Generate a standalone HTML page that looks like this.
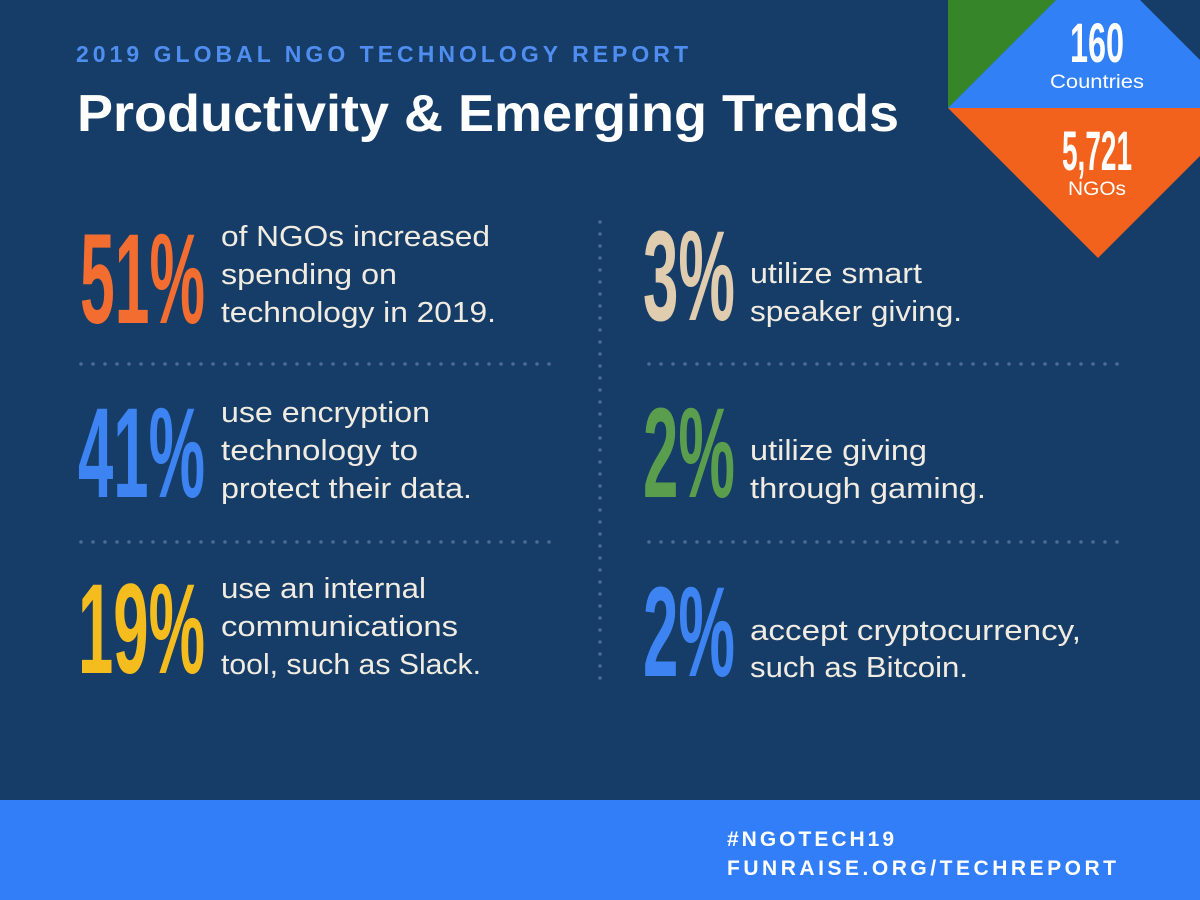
<!DOCTYPE html>
<html><head><meta charset="utf-8"><style>
html,body{margin:0;padding:0;background:#163d66;}
svg{display:block}
</style></head><body>
<svg width="1200" height="900" viewBox="0 0 1200 900" xmlns="http://www.w3.org/2000/svg" font-family="Liberation Sans, sans-serif">
<rect width="1200" height="900" fill="#163d67"/>
<defs>
<pattern id="dh1" x="75" y="358" width="12" height="12" patternUnits="userSpaceOnUse"><circle cx="6" cy="6" r="1.8" fill="#4b6c93"/></pattern>
<pattern id="dh2" x="643" y="358" width="12" height="12" patternUnits="userSpaceOnUse"><circle cx="6" cy="6" r="1.8" fill="#4b6c93"/></pattern>
<pattern id="dh3" x="75" y="536" width="12" height="12" patternUnits="userSpaceOnUse"><circle cx="6" cy="6" r="1.8" fill="#4b6c93"/></pattern>
<pattern id="dh4" x="643" y="536" width="12" height="12" patternUnits="userSpaceOnUse"><circle cx="6" cy="6" r="1.8" fill="#4b6c93"/></pattern>
<pattern id="dv" x="594" y="216" width="12" height="12" patternUnits="userSpaceOnUse"><circle cx="6" cy="6" r="1.8" fill="#4b6c93"/></pattern>
</defs>
<!-- diamond -->
<polygon points="948,0 1056,0 948,108" fill="#368629"/>
<polygon points="948,108 1056,0 1140,0 1248,108" fill="#3280f6"/>
<polygon points="948,108 1248,108 1098,258" fill="#f2621c"/>
<text x="1097" y="62" fill="#fff" font-size="56" font-weight="bold" text-anchor="middle" textLength="54" lengthAdjust="spacingAndGlyphs">160</text>
<text x="1097" y="88" fill="#fff" font-size="19" text-anchor="middle" textLength="94" lengthAdjust="spacingAndGlyphs">Countries</text>
<text x="1097" y="170" fill="#fff" font-size="56" font-weight="bold" text-anchor="middle" textLength="70" lengthAdjust="spacingAndGlyphs">5,721</text>
<text x="1097" y="195" fill="#fff" font-size="19" text-anchor="middle" textLength="58" lengthAdjust="spacingAndGlyphs">NGOs</text>
<!-- header -->
<text x="76" y="62" fill="#4f8ef0" font-size="23" font-weight="bold" textLength="612" lengthAdjust="spacing">2019 GLOBAL NGO TECHNOLOGY REPORT</text>
<text x="77" y="131" fill="#fff" font-size="52" font-weight="bold" textLength="822" lengthAdjust="spacingAndGlyphs">Productivity &amp; Emerging Trends</text>
<!-- dots -->
<rect x="75" y="358" width="482" height="12" fill="url(#dh1)"/>
<rect x="643" y="358" width="482" height="12" fill="url(#dh2)"/>
<rect x="75" y="536" width="482" height="12" fill="url(#dh3)"/>
<rect x="643" y="536" width="482" height="12" fill="url(#dh4)"/>
<rect x="594" y="216" width="12" height="472" fill="url(#dv)"/>
<!-- big numbers -->
<g font-size="128" font-weight="bold">
<text x="80" y="323" fill="#f26d2f" textLength="125" lengthAdjust="spacingAndGlyphs">51%</text>
<text x="78" y="497" fill="#3d84f2" textLength="127" lengthAdjust="spacingAndGlyphs">41%</text>
<text x="78" y="673" fill="#f5bc1e" textLength="127" lengthAdjust="spacingAndGlyphs">19%</text>
<text x="643" y="320" fill="#e0ccae" textLength="92" lengthAdjust="spacingAndGlyphs">3%</text>
<text x="643" y="497" fill="#5a9e4d" textLength="92" lengthAdjust="spacingAndGlyphs">2%</text>
<text x="643" y="676" fill="#3d84f2" textLength="92" lengthAdjust="spacingAndGlyphs">2%</text>
</g>
<!-- body text -->
<g fill="#f1ece2" font-size="29">
<text x="221" y="246" textLength="269" lengthAdjust="spacingAndGlyphs">of NGOs increased</text>
<text x="221" y="284" textLength="176" lengthAdjust="spacingAndGlyphs">spending on</text>
<text x="221" y="322" textLength="275" lengthAdjust="spacingAndGlyphs">technology in 2019.</text>
<text x="750" y="283" textLength="172" lengthAdjust="spacingAndGlyphs">utilize smart</text>
<text x="750" y="321" textLength="212" lengthAdjust="spacingAndGlyphs">speaker giving.</text>
<text x="221" y="422" textLength="209" lengthAdjust="spacingAndGlyphs">use encryption</text>
<text x="221" y="460" textLength="197" lengthAdjust="spacingAndGlyphs">technology to</text>
<text x="221" y="498" textLength="251" lengthAdjust="spacingAndGlyphs">protect their data.</text>
<text x="750" y="460" textLength="177" lengthAdjust="spacingAndGlyphs">utilize giving</text>
<text x="750" y="498" textLength="236" lengthAdjust="spacingAndGlyphs">through gaming.</text>
<text x="221" y="598" textLength="205" lengthAdjust="spacingAndGlyphs">use an internal</text>
<text x="221" y="636" textLength="237" lengthAdjust="spacingAndGlyphs">communications</text>
<text x="221" y="674" textLength="260" lengthAdjust="spacingAndGlyphs">tool, such as Slack.</text>
<text x="750" y="640" textLength="331" lengthAdjust="spacingAndGlyphs">accept cryptocurrency,</text>
<text x="750" y="677" textLength="218" lengthAdjust="spacingAndGlyphs">such as Bitcoin.</text>
</g>
<!-- footer -->
<rect x="0" y="800" width="1200" height="100" fill="#317ef8"/>
<text x="727" y="846" fill="#fff" font-size="21" font-weight="bold" letter-spacing="3">#NGOTECH19</text>
<text x="727" y="875" fill="#fff" font-size="21" font-weight="bold" textLength="389" lengthAdjust="spacing">FUNRAISE.ORG/TECHREPORT</text>
</svg>
</body></html>
